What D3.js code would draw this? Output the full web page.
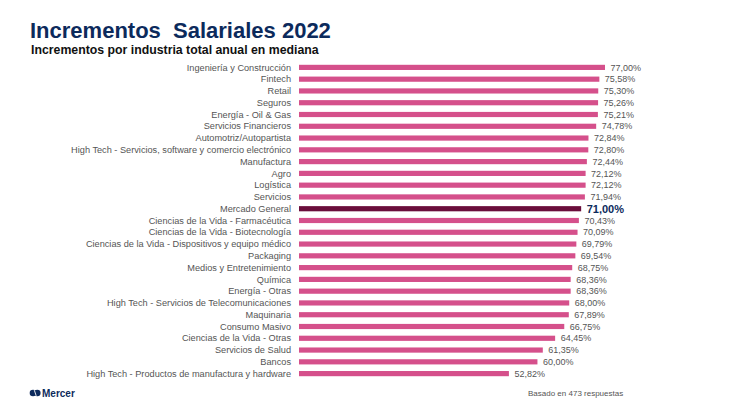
<!DOCTYPE html>
<html><head><meta charset="utf-8">
<script src="https://cdn.jsdelivr.net/npm/d3@7/dist/d3.min.js"></script>
<style>body{margin:0;background:#fff}svg{display:block}</style>
</head><body>
<svg id="c" width="730" height="411"></svg>
<script>
const categories = ["Ingeniería y Construcción","Fintech","Retail","Seguros","Energía - Oil & Gas","Servicios Financieros","Automotriz/Autopartista","High Tech - Servicios, software y comercio electrónico","Manufactura","Agro","Logística","Servicios","Mercado General","Ciencias de la Vida - Farmacéutica","Ciencias de la Vida - Biotecnología","Ciencias de la Vida - Dispositivos y equipo médico","Packaging","Medios y Entretenimiento","Química","Energía - Otras","High Tech - Servicios de Telecomunicaciones","Maquinaria","Consumo Masivo","Ciencias de la Vida - Otras","Servicios de Salud","Bancos","High Tech - Productos de manufactura y hardware"];
const values = [77.00,75.58,75.30,75.26,75.21,74.78,72.84,72.80,72.44,72.12,72.12,71.94,71.00,70.43,70.09,69.79,69.54,68.75,68.36,68.36,68.00,67.89,66.75,64.45,61.35,60.00,52.82];
const highlight = "Mercado General";
const data = categories.map((c,i)=>({c, v: values[i]}));

const svg = d3.select("#c");
const font = "'Liberation Sans', Arial, sans-serif";

svg.append("text").attr("x",30).attr("y",37.5).attr("font-family",font).attr("font-weight","bold")
  .attr("font-size",22).attr("fill","#0c2a5c").attr("xml:space","preserve").text("Incrementos  Salariales 2022");
svg.append("text").attr("x",31).attr("y",54).attr("font-family",font).attr("font-weight","bold")
  .attr("font-size",12.3).attr("fill","#111").text("Incrementos por industria total anual en mediana");

const x = d3.scaleLinear().domain([0,77]).range([299,605]);
const y = d3.scaleBand().domain(categories).range([61.5,379.5]).paddingInner(0.56).paddingOuter(0.28);

const fmt = v => d3.format(".2f")(v).replace(".",",") + "%";

const g = svg.append("g");
g.selectAll("rect").data(data).join("rect")
  .attr("x", x(0)).attr("y", d=>y(d.c)).attr("width", d=>x(d.v)-x(0)).attr("height", y.bandwidth())
  .attr("fill", d=> d.c===highlight ? "#6a0d3b" : "#d5508b");

g.selectAll("text.cat").data(data).join("text").attr("class","cat")
  .attr("x", 291).attr("y", d=>y(d.c)+y.bandwidth()/2).attr("dy","0.35em")
  .attr("text-anchor","end").attr("font-family",font).attr("font-size",9.2).attr("fill","#555")
  .text(d=>d.c);

g.selectAll("text.val").data(data).join("text").attr("class","val")
  .attr("x", d=>x(d.v)+5.5).attr("y", d=>y(d.c)+y.bandwidth()/2).attr("dy","0.35em")
  .attr("font-family",font)
  .attr("font-size", d=> d.c===highlight ? 11 : 9)
  .attr("font-weight", d=> d.c===highlight ? "bold" : "normal")
  .attr("fill", d=> d.c===highlight ? "#0c2a5c" : "#555")
  .text(d=>fmt(d.v));

svg.append("text").attr("x",528).attr("y",396).attr("font-family",font).attr("font-size",8)
  .attr("fill","#555").text("Basado en 473 respuestas");

// Mercer logo
const lg = svg.append("g").attr("transform","translate(30,393)");
lg.append("ellipse").attr("cx",3).attr("cy",0).attr("rx",3.3).attr("ry",3.2).attr("fill","#0c2a5c");
lg.append("ellipse").attr("cx",7.3).attr("cy",0).attr("rx",3.3).attr("ry",3.2).attr("fill","#0c2a5c");
lg.append("path").attr("d","M4.3,-2.8 L6.2,2.8").attr("stroke","#fff").attr("stroke-width",0.9);
svg.append("text").attr("x",42).attr("y",396.8).attr("font-family",font).attr("font-weight","bold")
  .attr("font-size",10).attr("fill","#0c2a5c").text("Mercer");
</script>
</body></html>
